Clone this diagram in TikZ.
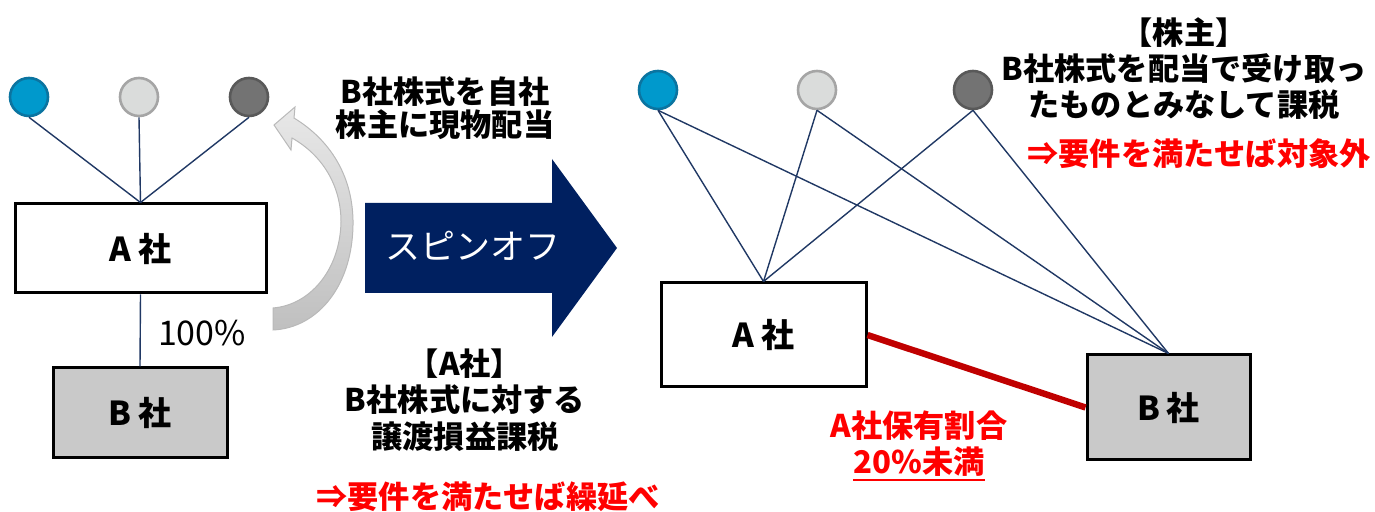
\documentclass[tikz,border=0pt]{standalone}
\usepackage{fontspec}
\setmainfont{Noto Sans CJK JP}
\usepackage{tikz}

\definecolor{linenavy}{HTML}{203864}
\definecolor{spinnavy}{HTML}{002060}
\definecolor{holderblue}{HTML}{0099CC}
\definecolor{holderblueline}{HTML}{0B74A0}
\definecolor{holderlight}{HTML}{DADCDB}
\definecolor{holderlightline}{HTML}{A5A5A5}
\definecolor{holderdark}{HTML}{737373}
\definecolor{holderdarkline}{HTML}{595959}
\definecolor{boxgray}{HTML}{C9C9C9}
\definecolor{taxred}{HTML}{FF0000}
\definecolor{sharered}{HTML}{C00000}

\newcommand{\redline}[1]{\setbox0\hbox{#1}\rlap{\color{taxred}\rule[-3.5pt]{\wd0}{1.1pt}}\box0}

\begin{document}
\begin{tikzpicture}[x=0.5pt,y=-0.5pt]
    \useasboundingbox (0,0) rectangle (1375,512);

        % shareholders
        \begin{scope}[every node/.style={circle,minimum size=19pt,inner sep=0pt,line width=1.3pt}]
            \node[fill=holderblue,draw=holderblueline] (l1) at (29,97) {};
            \node[fill=holderlight,draw=holderlightline] (l2) at (139,97) {};
            \node[fill=holderdark,draw=holderdarkline] (l3) at (249,97) {};
            \node[fill=holderblue,draw=holderblueline] (r1) at (658,90) {};
            \node[fill=holderlight,draw=holderlightline] (r2) at (817,90) {};
            \node[fill=holderdark,draw=holderdarkline] (r3) at (973,90) {};
        \end{scope}

        % companies
        \begin{scope}[every node/.style={rectangle,draw=black,line width=1.5pt,inner sep=0pt,font=\bfseries\fontsize{16.5}{18}\selectfont}]
            \node[fill=white,minimum width=125.5pt,minimum height=44.5pt] (la) at (140.5,248.5) {A\hspace{0.2em}社};
            \node[fill=boxgray,minimum width=87pt,minimum height=45pt] (lb) at (140,413) {B\hspace{0.2em}社};
            \node[fill=white,minimum width=102.5pt,minimum height=52pt] (ra) at (763.5,335) {A\hspace{0.2em}社};
            \node[fill=boxgray,minimum width=81.5pt,minimum height=52.5pt] (rb) at (1168.5,407.5) {B\hspace{0.2em}社};
        \end{scope}

        \begin{scope}[every edge/.style={draw=linenavy,line width=0.7pt}]
            \path (l1.south) edge (la.north);
            \path (l2.south) edge (la.north);
            \path (l3.south) edge (la.north);
            \path (la.south) edge (lb.north);

            \path (r1.south) edge (ra.north);
            \path (r2.south) edge (ra.north);
            \path (r3.south) edge (ra.north);
            \path (r1.south) edge (rb.north);
            \path (r2.south) edge (rb.north);
            \path (r3.south) edge (rb.north);
        \end{scope}

        \path (ra.east) edge[draw=sharered,line width=3.2pt] (rb.west);

        % curved arrow and spin-off arrow
        \path[top color=gray!18,bottom color=gray!50,draw=gray!55,line width=0.5pt]
            (274,125) -- (295,107) -- (294,118)
            .. controls (330,140) and (352,175) .. (353,220)
            .. controls (354,285) and (318,328) .. (273,330)
            -- (273,308)
            .. controls (310,305) and (340,270) .. (341,222)
            .. controls (341,185) and (322,155) .. (292,138)
            -- (291,150) -- cycle;
        \fill[spinnavy] (365,203) -- (552,203) -- (552,159) -- (617,248)
            -- (552,337) -- (552,293) -- (365,293) -- cycle;

        % texts
        \begin{scope}[every node/.style={align=center,inner sep=0pt}]
            \node[text=white,font=\fontsize{17.5}{20}\selectfont] (spin) at (473,246) {スピンオフ};
            \node[font=\fontsize{17}{20}\selectfont] (pct) at (202,333) {100\%};
            \node[font=\bfseries\fontsize{15.6}{16.8}\selectfont] (dist) at (445,108) {B社株式を自社\\株主に現物配当};
            \node[font=\bfseries\fontsize{15.6}{18.3}\selectfont] (atax) at (465,400) {【A社】\\B社株式に対する\\譲渡損益課税};
            \node[text=taxred,font=\bfseries\fontsize{15.6}{18}\selectfont] (adefer) at (488,497) {⇒要件を満たせば繰延べ};
            \node[font=\bfseries\fontsize{15.6}{18}\selectfont] (htax) at (1184,69) {【株主】\\B社株式を配当で受け取っ\\たものとみなして課税};
            \node[text=taxred,font=\bfseries\fontsize{15.6}{18}\selectfont] (hexempt) at (1199,154) {⇒要件を満たせば対象外};
            \node[text=taxred,font=\bfseries\fontsize{15.6}{18}\selectfont] (ratio) at (919,446) {A社保有割合\\\redline{20\%未満}};
        \end{scope}

\end{tikzpicture}
\end{document}
